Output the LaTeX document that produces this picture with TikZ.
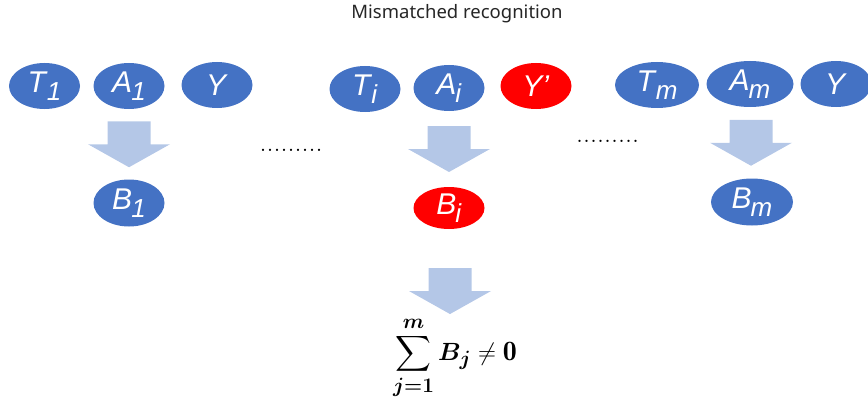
\documentclass[tikz,border=0pt]{standalone}
\usepackage{fontspec}
\usepackage{amsmath}
\usepackage{bm}
\usepackage{xcolor}
\usetikzlibrary{shapes.geometric,positioning,calc}
\setsansfont{Liberation Sans}
\newfontfamily\titlefont{Noto Sans}

\definecolor{nodeblue}{HTML}{4472C4}
\definecolor{nodered}{HTML}{FF0000}
\definecolor{arrowblue}{HTML}{B4C7E7}

\newcommand{\varsub}[1]{\raisebox{-0.28em}{\fontsize{26}{26}\selectfont#1}}
\newcommand{\varname}[2]{\textit{#1}\kern-0.03em\varsub{\textit{#2}}}

\tikzset{
blockarrow/.pic={\fill[arrowblue] (-21.5,-23) -- (21.5,-23) -- (21.5,0) -- (41,0) -- (0,23) -- (-41,0) -- (-21.5,0) -- cycle;},
}

\begin{document}
\begin{tikzpicture}[x=1pt,y=-1pt,
bluenode/.style={ellipse, fill=nodeblue, text=white, inner sep=0pt, minimum width=71pt, minimum height=46pt, font=\sffamily\fontsize{30}{30}\selectfont},
rednode/.style={bluenode, fill=nodered},
dotsnode/.style={inner sep=0pt, font=\fontsize{28}{28}\selectfont},
]
\useasboundingbox (0,0) rectangle (868,412);

%Title
\node[font=\titlefont\fontsize{18.5}{20}\selectfont, text=black!85] (title) at (457,14) {Mismatched recognition};

%Top row
\node[bluenode] (T1) at (44.5,86) {\varname{T}{1}};
\node[bluenode] (A1) at (129,86) {\varname{A}{1}};
\node[bluenode] (Y1) at (217,85) {\textit{Y}};
\node[bluenode] (Ti) at (365,89) {\varname{T}{i}};
\node[bluenode] (Ai) at (449,88) {\varname{A}{i}};
\node[rednode]  (Yi) at (536,86) {\textit{Y’}};
\node[bluenode, minimum width=84pt] (Tm) at (657,85) {\varname{T}{m}};
\node[bluenode, minimum width=87pt] (Am) at (750,84) {\varname{A}{m}};
\node[bluenode] (Ym) at (836,84) {\textit{Y}};

%Bottom row
\node[bluenode, minimum height=47pt] (B1) at (129,203) {\varname{B}{1}};
\node[rednode, minimum height=42pt]  (Bi) at (449,208) {\varname{B}{i}};
\node[bluenode, minimum width=82pt, minimum height=47pt] (Bm) at (752,202) {\varname{B}{m}};

%Result
\node[font=\fontsize{28}{34}\selectfont, inner sep=0pt] (result) at (455,358)
  {$\displaystyle\sum_{\bm{j=1}}^{\bm{m}}\bm{B_j}\neq\mathbf{0}$};

%Arrows
\pic at ($(A1.south)!0.5!(B1.north)$) {blockarrow};
\pic at ($(Ai.south)!0.5!(Bi.north)$) {blockarrow};
\pic at ($(Am.south)!0.5!(Bm.north)$) {blockarrow};
\pic at ($(result.north)+(-5,-26)$) {blockarrow};

%Dots
\node[dotsnode] (dotsleft) at (291,150) {.........};
\node[dotsnode] (dotsright) at (607.5,141) {.........};
\end{tikzpicture}
\end{document}
